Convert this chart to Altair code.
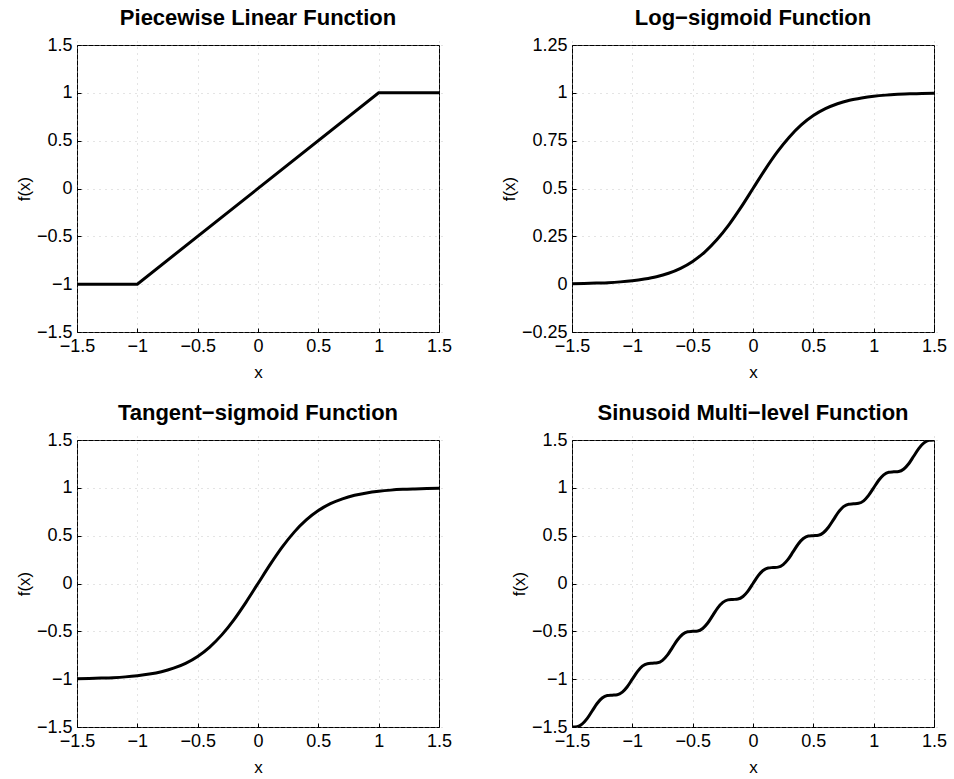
import altair as alt
import pandas as pd

FONT = "Liberation Sans"

# Piecewise linear
pw_x = [-1.5, -1.0, 1.0, 1.5]
pw_y = [-1.0, -1.0, 1.0, 1.0]

# Sigmoid curves (read at 0.1 steps)
sig_x = [-1.5, -1.4, -1.3, -1.2, -1.1, -1.0, -0.9, -0.8, -0.7, -0.6, -0.5, -0.4, -0.3, -0.2, -0.1,
         0.0, 0.1, 0.2, 0.3, 0.4, 0.5, 0.6, 0.7, 0.8, 0.9, 1.0, 1.1, 1.2, 1.3, 1.4, 1.5]
logsig_y = [0.002, 0.004, 0.006, 0.008, 0.012, 0.018, 0.027, 0.039, 0.057, 0.083, 0.119, 0.168,
            0.232, 0.310, 0.401, 0.500, 0.599, 0.690, 0.768, 0.832, 0.881, 0.917, 0.943, 0.961,
            0.973, 0.982, 0.988, 0.992, 0.995, 0.996, 0.998]
tansig_y = [-0.995, -0.993, -0.989, -0.984, -0.976, -0.964, -0.947, -0.922, -0.885, -0.834, -0.762,
            -0.664, -0.537, -0.380, -0.197, 0.0, 0.197, 0.380, 0.537, 0.664, 0.762, 0.834, 0.885,
            0.922, 0.947, 0.964, 0.976, 0.984, 0.989, 0.993, 0.995]

# Sinusoid multi-level
sin_x = [-1.5, -1.458, -1.417, -1.375, -1.333, -1.292, -1.25, -1.208, -1.167, -1.125, -1.083, -1.042,
         -1.0, -0.958, -0.917, -0.875, -0.833, -0.792, -0.75, -0.708, -0.667, -0.625, -0.583, -0.542,
         -0.5, -0.458, -0.417, -0.375, -0.333, -0.292, -0.25, -0.208, -0.167, -0.125, -0.083, -0.042,
         0.0, 0.042, 0.083, 0.125, 0.167, 0.208, 0.25, 0.292, 0.333, 0.375, 0.417, 0.458,
         0.5, 0.542, 0.583, 0.625, 0.667, 0.708, 0.75, 0.792, 0.833, 0.875, 0.917, 0.958,
         1.0, 1.042, 1.083, 1.125, 1.167, 1.208, 1.25, 1.292, 1.333, 1.375, 1.417, 1.458, 1.5]
sin_y = [-1.5, -1.496, -1.470, -1.413, -1.333, -1.254, -1.197, -1.171, -1.167, -1.163, -1.136, -1.079,
         -1.0, -0.921, -0.864, -0.838, -0.833, -0.829, -0.803, -0.746, -0.667, -0.588, -0.530, -0.504,
         -0.5, -0.496, -0.470, -0.413, -0.333, -0.254, -0.197, -0.171, -0.167, -0.163, -0.136, -0.079,
         0.0, 0.079, 0.136, 0.163, 0.167, 0.171, 0.197, 0.254, 0.333, 0.413, 0.470, 0.496,
         0.5, 0.504, 0.530, 0.588, 0.667, 0.746, 0.803, 0.829, 0.833, 0.838, 0.864, 0.921,
         1.0, 1.079, 1.136, 1.163, 1.167, 1.171, 1.197, 1.254, 1.333, 1.413, 1.470, 1.496, 1.5]

x_ticks = [-1.5, -1, -0.5, 0, 0.5, 1, 1.5]
y_ticks_a = [-1.5, -1, -0.5, 0, 0.5, 1, 1.5]
y_ticks_b = [-0.25, 0, 0.25, 0.5, 0.75, 1, 1.25]

W, H = 362, 287
LBL = "replace(format(datum.value, '.2~f'), '-', '\u2212')"


def panel(xs, ys, title, ydom, yvals, interp):
    df = pd.DataFrame({"x": xs, "y": ys})
    return alt.Chart(df).mark_line(
        color="black", strokeWidth=3, interpolate=interp, clip=True
    ).encode(
        x=alt.X("x:Q", scale=alt.Scale(domain=[-1.5, 1.5], nice=False, zero=False),
                axis=alt.Axis(values=x_ticks, title="x", labelExpr=LBL,
                              labelPadding=5, titlePadding=9)),
        y=alt.Y("y:Q", scale=alt.Scale(domain=ydom, nice=False, zero=False),
                axis=alt.Axis(values=yvals, title="f(x)", labelExpr=LBL,
                              labelPadding=5, titlePadding=3)),
    ).properties(width=W, height=H, title=title)


p1 = panel(pw_x, pw_y, "Piecewise Linear Function", [-1.5, 1.5], y_ticks_a, "linear")
p2 = panel(sig_x, logsig_y, "Log\u2212sigmoid Function", [-0.25, 1.25], y_ticks_b, "monotone")
p3 = panel(sig_x, tansig_y, "Tangent\u2212sigmoid Function", [-1.5, 1.5], y_ticks_a, "monotone")
p4 = panel(sin_x, sin_y, "Sinusoid Multi\u2212level Function", [-1.5, 1.5], y_ticks_a, "monotone")

chart = alt.concat(
    p1, p2, p3, p4, columns=2, spacing={"row": 108, "column": 133}, bounds="flush",
).properties(
    padding={"left": 14, "top": 6, "right": 5, "bottom": 0}
).configure(
    background="white"
).configure_view(
    stroke="black", strokeWidth=1
).configure_axis(
    labelFont=FONT, labelFontSize=18, labelColor="black",
    titleFont=FONT, titleFontSize=17, titleColor="black", titleFontWeight="normal",
    domain=False, ticks=True, tickSize=4, tickColor="black", tickWidth=1, offset=-4,
    labelFlush=False, labelOverlap=False,
    grid=True, gridColor="#b0b0b0", gridDash=[1, 5], gridWidth=1, gridOpacity=0.7,
).configure_title(
    font=FONT, fontSize=22, fontWeight="bold", color="black", offset=6, anchor="middle"
)

chart.save("out.html", embed_options={"renderer": "svg", "actions": False})
